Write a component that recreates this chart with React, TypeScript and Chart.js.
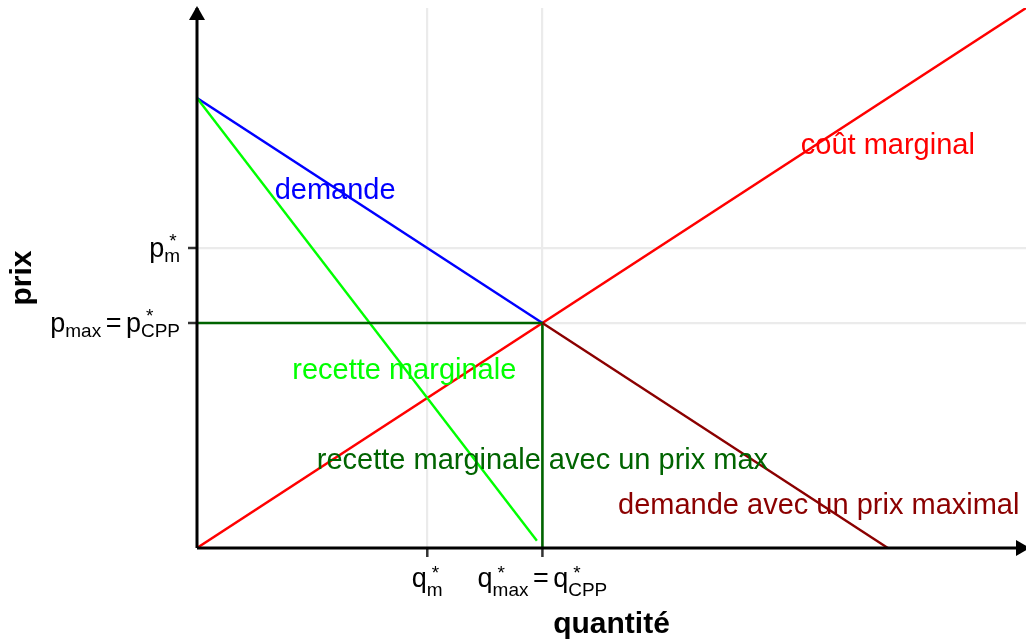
import React, { useEffect, useRef } from "react";
import { Chart, registerables } from "chart.js";

Chart.register(...registerables);

// ---- data (economic units: price vs quantity) ----
const X_MAX = 12;
const Y_MAX = 12;

const demandQ = [0, 5];
const demandP = [10, 5];
const demandMaxQ = [5, 10];
const demandMaxP = [5, 0];
const mrQ = [0, 4.92];
const mrP = [10, 0.16];
const mcQ = [0, 12];
const mcP = [0, 12];
const mrMaxQ = [0, 5, 5];
const mrMaxP = [5, 5, 0];

const xTickValues = [10 / 3, 5];
const xTickLabels = ["q_{m}^{*}", "q_{max}^{*} = q_{CPP}^{*}"];
const yTickValues = [20 / 3, 5];
const yTickLabels = ["p_{m}^{*}", "p_{max} = p_{CPP}^{*}"];

const annotationTexts = [
  "demande",
  "coût marginal",
  "recette marginale",
  "recette marginale avec un prix max",
  "demande avec un prix maximal",
];
const annotationQ = [2, 10, 3, 5, 9];
const annotationP = [8, 9, 4, 2, 1];
const annotationColors = ["#0000FF", "#FF0000", "#00FF00", "#006400", "#8B0000"];

const xTitle = "quantité";
const yTitle = "prix";

// ---- helpers ----
const FONT = '"Liberation Sans", Arial, Helvetica, sans-serif';
const zip = (xs: number[], ys: number[]) => xs.map((x, i) => ({ x, y: ys[i] }));

type Tok =
  | { kind: "base"; text: string }
  | { kind: "space" }
  | { kind: "script"; sub: string; sup: string };

function parseMath(s: string): Tok[] {
  const toks: Tok[] = [];
  let buf = "";
  const flush = () => {
    if (buf) {
      toks.push({ kind: "base", text: buf });
      buf = "";
    }
  };
  let i = 0;
  while (i < s.length) {
    const c = s[i];
    if ((c === "_" || c === "^") && s[i + 1] === "{") {
      const end = s.indexOf("}", i + 2);
      const content = s.slice(i + 2, end);
      flush();
      const last = toks[toks.length - 1];
      if (last && last.kind === "script" && ((c === "_" && !last.sub) || (c === "^" && !last.sup))) {
        if (c === "_") last.sub = content;
        else last.sup = content;
      } else {
        toks.push({ kind: "script", sub: c === "_" ? content : "", sup: c === "^" ? content : "" });
      }
      i = end + 1;
    } else if (c === " ") {
      flush();
      toks.push({ kind: "space" });
      i++;
    } else {
      buf += c;
      i++;
    }
  }
  flush();
  return toks;
}

const MAIN_SIZE = 27;
const SCRIPT_SIZE = 19;
const SPACE_W = 4.5;
const SUP_DX = 5;

function tokWidth(ctx: CanvasRenderingContext2D, t: Tok) {
  if (t.kind === "space") return SPACE_W;
  if (t.kind === "base") {
    ctx.font = `${MAIN_SIZE}px ${FONT}`;
    return ctx.measureText(t.text).width;
  }
  ctx.font = `${SCRIPT_SIZE}px ${FONT}`;
  const supW = t.sup ? ctx.measureText(t.sup).width + SUP_DX : 0;
  return Math.max(ctx.measureText(t.sub).width, supW);
}

function mathWidth(ctx: CanvasRenderingContext2D, toks: Tok[]) {
  return toks.reduce((w, t) => w + tokWidth(ctx, t), 0);
}

function drawMath(
  ctx: CanvasRenderingContext2D,
  toks: Tok[],
  x: number,
  baseline: number,
  subShift: number,
  supShift: number
) {
  let cx = x;
  ctx.textAlign = "left";
  ctx.textBaseline = "alphabetic";
  for (const t of toks) {
    const w = tokWidth(ctx, t);
    if (t.kind === "base") {
      ctx.font = `${MAIN_SIZE}px ${FONT}`;
      ctx.fillText(t.text, cx, baseline);
    } else if (t.kind === "script") {
      ctx.font = `${SCRIPT_SIZE}px ${FONT}`;
      if (t.sub) ctx.fillText(t.sub, cx, baseline + subShift);
      if (t.sup) ctx.fillText(t.sup, cx + SUP_DX, baseline - supShift);
    }
    cx += w;
  }
}

const decorPlugin = {
  id: "econDecor",
  afterDatasetsDraw(chart: any) {
    const ctx: CanvasRenderingContext2D = chart.ctx;
    const { left, right, top, bottom } = chart.chartArea;
    const xs = chart.scales.x;
    const ys = chart.scales.y;
    ctx.save();

    // tick marks
    ctx.strokeStyle = "#333333";
    ctx.lineWidth = 2.5;
    xTickValues.forEach((v) => {
      const px = xs.getPixelForValue(v);
      ctx.beginPath();
      ctx.moveTo(px, bottom);
      ctx.lineTo(px, bottom + 9);
      ctx.stroke();
    });
    yTickValues.forEach((v) => {
      const py = ys.getPixelForValue(v);
      ctx.beginPath();
      ctx.moveTo(left - 9, py);
      ctx.lineTo(left, py);
      ctx.stroke();
    });

    // axis lines with arrows
    ctx.strokeStyle = "#000000";
    ctx.fillStyle = "#000000";
    ctx.lineWidth = 3;
    ctx.beginPath();
    ctx.moveTo(left, bottom);
    ctx.lineTo(right, bottom);
    ctx.stroke();
    ctx.beginPath();
    ctx.moveTo(left, bottom);
    ctx.lineTo(left, top);
    ctx.stroke();
    const AL = 14;
    const AW = 8;
    // x arrow
    const xt = right + 4;
    ctx.beginPath();
    ctx.moveTo(xt, bottom);
    ctx.lineTo(xt - AL, bottom - AW);
    ctx.lineTo(xt - AL, bottom + AW);
    ctx.closePath();
    ctx.fill();
    // y arrow
    const yt = top - 2;
    ctx.beginPath();
    ctx.moveTo(left, yt);
    ctx.lineTo(left - AW, yt + AL);
    ctx.lineTo(left + AW, yt + AL);
    ctx.closePath();
    ctx.fill();

    // tick labels
    ctx.fillStyle = "#000000";
    xTickValues.forEach((v, i) => {
      const toks = parseMath(xTickLabels[i]);
      const w = mathWidth(ctx, toks);
      const px = xs.getPixelForValue(v);
      drawMath(ctx, toks, px - w / 2, bottom + 39, 9, 8);
    });
    yTickValues.forEach((v, i) => {
      const toks = parseMath(yTickLabels[i]);
      const w = mathWidth(ctx, toks);
      const py = ys.getPixelForValue(v);
      drawMath(ctx, toks, left - 17 - w, py + 8.5, 5, 10);
    });

    // annotations
    ctx.font = `29px ${FONT}`;
    ctx.textAlign = "center";
    ctx.textBaseline = "middle";
    annotationTexts.forEach((t, i) => {
      ctx.fillStyle = annotationColors[i];
      ctx.fillText(t, xs.getPixelForValue(annotationQ[i]), ys.getPixelForValue(annotationP[i]) + 3);
    });

    // axis titles
    ctx.fillStyle = "#000000";
    ctx.font = `bold 30px ${FONT}`;
    ctx.textAlign = "center";
    ctx.textBaseline = "alphabetic";
    ctx.fillText(xTitle, (left + right) / 2, 633);
    ctx.save();
    ctx.translate(31, (top + bottom) / 2);
    ctx.rotate(-Math.PI / 2);
    ctx.fillText(yTitle, 0, 0);
    ctx.restore();

    ctx.restore();
  },
};

export default function App() {
  const ref = useRef<HTMLCanvasElement | null>(null);

  useEffect(() => {
    if (!ref.current) return;
    const line = (data: { x: number; y: number }[], color: string, width = 2.4) => ({
      data,
      borderColor: color,
      backgroundColor: color,
      borderWidth: width,
      showLine: true,
      pointRadius: 0,
      fill: false,
      tension: 0,
    });
    const chart = new Chart(ref.current, {
      type: "scatter",
      data: {
        datasets: [
          line(zip(demandMaxQ, demandMaxP), "#8B0000"),
          line(zip(mrMaxQ, mrMaxP), "#006400", 2.6),
          line(zip(mrQ, mrP), "#00FF00"),
          line(zip(demandQ, demandP), "#0000FF"),
          line(zip(mcQ, mcP), "#FF0000"),
        ] as any,
      },
      options: {
        responsive: false,
        animation: false,
        layout: { padding: { top: 8, right: 0, left: 0, bottom: 0 } },
        plugins: { legend: { display: false }, tooltip: { enabled: false }, title: { display: false } },
        scales: {
          x: {
            type: "linear",
            min: 0,
            max: X_MAX,
            ticks: { display: false },
            grid: { color: "#EBEBEB", lineWidth: 2.2, drawTicks: false },
            border: { display: false },
            afterBuildTicks: (s: any) => {
              s.ticks = xTickValues.map((value) => ({ value }));
            },
            afterFit: (s: any) => {
              s.height = 95;
            },
          },
          y: {
            type: "linear",
            min: 0,
            max: Y_MAX,
            ticks: { display: false },
            grid: { color: "#EBEBEB", lineWidth: 2.2, drawTicks: false },
            border: { display: false },
            afterBuildTicks: (s: any) => {
              s.ticks = yTickValues.map((value) => ({ value }));
            },
            afterFit: (s: any) => {
              s.width = 197;
            },
          },
        },
      } as any,
      plugins: [decorPlugin],
    });
    return () => chart.destroy();
  }, []);

  return (
    <div style={{ position: "absolute", left: 0, top: 0, width: 1026, height: 643, background: "#ffffff" }}>
      <canvas ref={ref} width={1026} height={643} style={{ display: "block" }} />
    </div>
  );
}
